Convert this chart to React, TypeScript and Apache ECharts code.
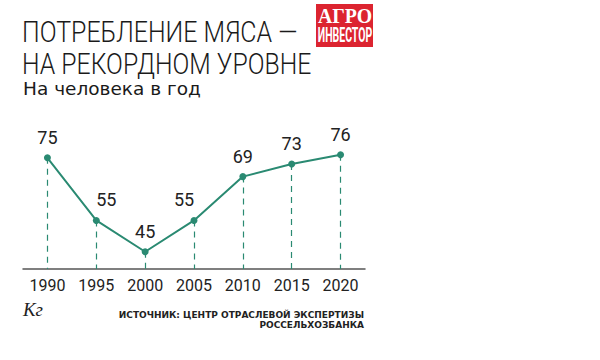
import React, { useEffect, useRef } from "react";
import * as echarts from "echarts";

const years = ["1990", "1995", "2000", "2005", "2010", "2015", "2020"];
const values = [75, 55, 45, 55, 69, 73, 76];
const labelShiftX = [0, 10, 0, -10, 0, 0, 0];

const titleLines = ["ПОТРЕБЛЕНИЕ МЯСА —", "НА РЕКОРДНОМ УРОВНЕ"];
const subtitle = "На человека в год";
const unitText = "Кг";
const sourceLines = ["ИСТОЧНИК: ЦЕНТР ОТРАСЛЕВОЙ ЭКСПЕРТИЗЫ", "РОССЕЛЬХОЗБАНКА"];
const logoLines = ["АГРО", "ИНВЕСТОР"];

const TEAL = "#2a8a72";
const Y_MIN = 39.5;
const Y_MAX = 85;

export default function App() {
  const ref = useRef<HTMLDivElement>(null);
  useEffect(() => {
    document.body.style.margin = "0";
    const chart = echarts.init(ref.current!, undefined, { renderer: "svg" });
    chart.setOption({
      animation: false,
      backgroundColor: "#ffffff",
      grid: { left: 23, right: 235, top: 126.5, bottom: 91 },
      xAxis: {
        type: "category",
        data: years,
        boundaryGap: true,
        axisLine: { lineStyle: { color: "#555", width: 1.5 } },
        axisTick: { show: false },
        axisLabel: {
          interval: 0,
          color: "#222",
          fontSize: 16,
          fontFamily: "Roboto",
          margin: 8,
        },
      },
      yAxis: { type: "value", min: Y_MIN, max: Y_MAX, show: false },
      series: [
        {
          type: "line",
          data: values.map((v, i) => ({
            value: v,
            label: { offset: [labelShiftX[i], 0] },
          })),
          symbol: "circle",
          symbolSize: 7,
          itemStyle: { color: TEAL },
          lineStyle: { color: TEAL, width: 2 },
          label: {
            show: true,
            position: "top",
            distance: 8,
            color: "#222",
            fontSize: 18,
            fontFamily: "Roboto",
          },
          markLine: {
            silent: true,
            symbol: ["none", "none"],
            label: { show: false },
            lineStyle: { type: [6, 5], color: TEAL, width: 1.2 },
            data: values.map((v, i) => [
              { coord: [i, v] },
              { coord: [i, Y_MIN] },
            ]),
          },
        },
      ],
      graphic: [
        {
          type: "text",
          x: 22,
          y: 18,
          scaleX: 0.86,
          style: {
            text: titleLines[0],
            font: "300 29px Roboto",
            fill: "#1a1a1a",
            textVerticalAlign: "top",
          },
        },
        {
          type: "text",
          x: 22,
          y: 50,
          scaleX: 0.855,
          style: {
            text: titleLines[1],
            font: "300 29px Roboto",
            fill: "#1a1a1a",
            textVerticalAlign: "top",
          },
        },
        {
          type: "text",
          x: 23,
          y: 79,
          style: {
            text: subtitle,
            font: "18.5px 'DejaVu Sans'",
            fill: "#1a1a1a",
            textVerticalAlign: "top",
          },
        },
        {
          type: "rect",
          shape: { x: 316, y: 4, width: 57, height: 43 },
          style: { fill: "#dc2430" },
        },
        {
          type: "text",
          x: 345,
          y: 5,
          scaleX: 0.9,
          style: {
            text: logoLines[0],
            font: "bold 22px 'Liberation Serif'",
            fill: "#fff",
            textAlign: "center",
            textVerticalAlign: "top",
          },
        },
        {
          type: "text",
          x: 345,
          y: 25,
          scaleX: 0.5,
          style: {
            text: logoLines[1],
            font: "bold 21px Roboto",
            fill: "#fff",
            textAlign: "center",
            textVerticalAlign: "top",
          },
        },
        {
          type: "text",
          x: 23,
          y: 300,
          style: {
            text: unitText,
            font: "italic 19px 'Liberation Serif'",
            fill: "#222",
            textVerticalAlign: "top",
          },
        },
        {
          type: "text",
          x: 364,
          y: 310,
          style: {
            text: sourceLines[0],
            font: "bold 9px 'DejaVu Sans'",
            fill: "#222",
            textAlign: "right",
            textVerticalAlign: "top",
          },
        },
        {
          type: "text",
          x: 364,
          y: 320,
          style: {
            text: sourceLines[1],
            font: "bold 9px 'DejaVu Sans'",
            fill: "#222",
            textAlign: "right",
            textVerticalAlign: "top",
          },
        },
      ],
    });
    return () => chart.dispose();
  }, []);
  return <div ref={ref} style={{ width: 600, height: 360 }} />;
}
